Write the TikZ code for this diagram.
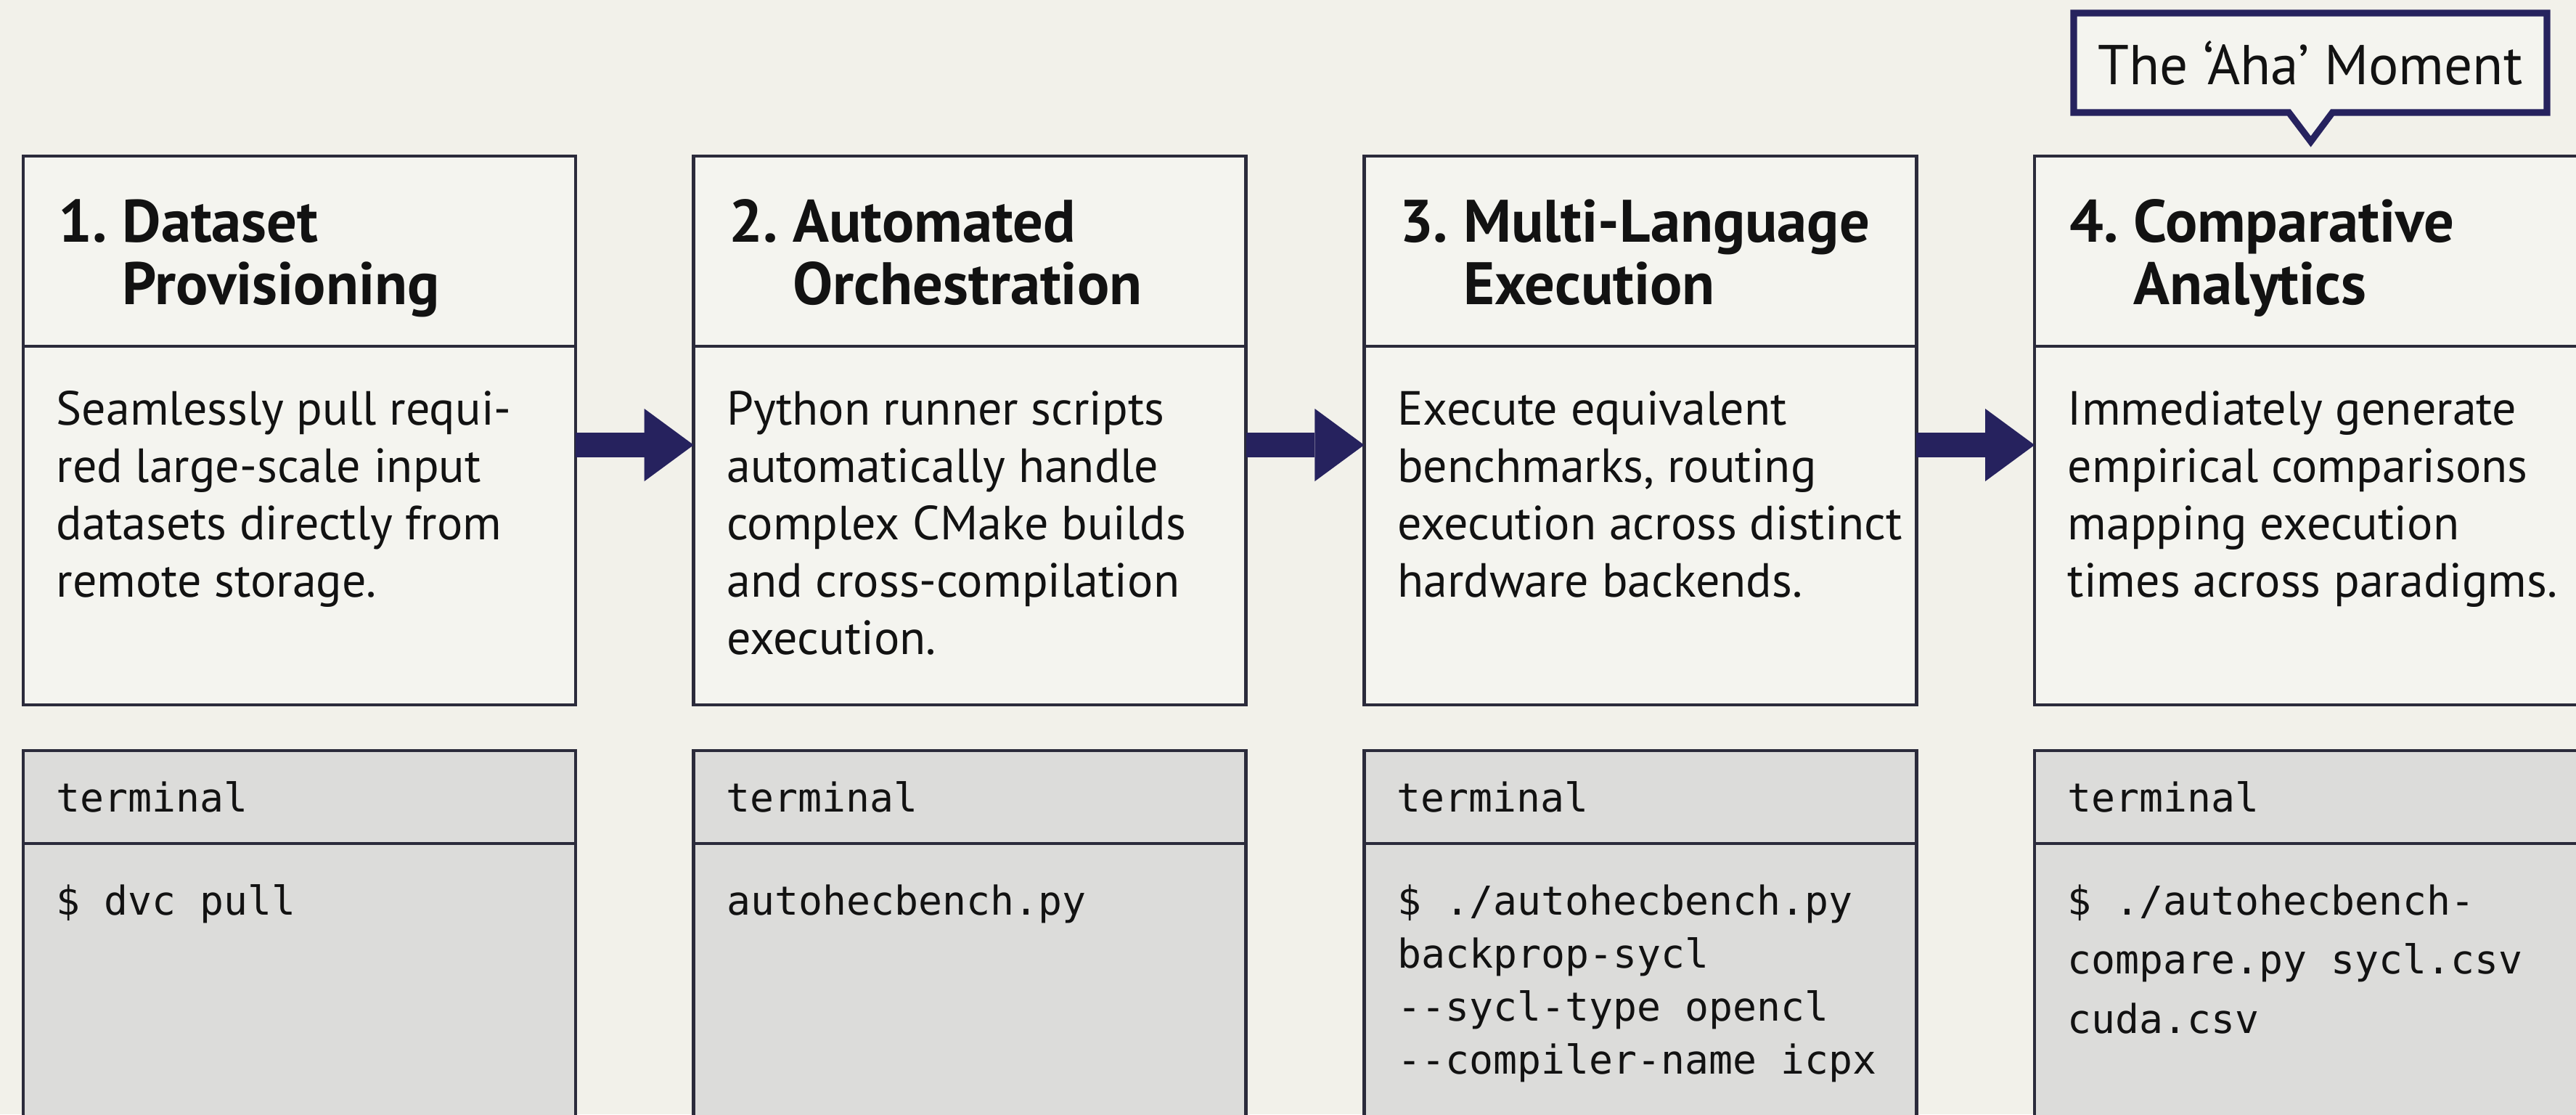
\documentclass[tikz,border=0pt]{standalone}
\usepackage{fontspec}
\setmainfont{PT Sans}
\setmonofont{DejaVu Sans Mono}
\usetikzlibrary{positioning, arrows.meta, shapes.callouts}

\definecolor{paper}{HTML}{F2F1EA}
\definecolor{card}{HTML}{F4F4EF}
\definecolor{shell}{HTML}{DCDCDA}
\definecolor{frame}{HTML}{2B2B3B}
\definecolor{navy}{HTML}{26225E}
\definecolor{ink}{HTML}{121212}

\newcommand{\textrows}[1]{\begin{tabular}[t]{@{}l@{}}#1\end{tabular}}

\begin{document}
\begin{tikzpicture}[
  cell/.style={draw=frame, line width=1.3pt, outer sep=0pt, inner sep=0pt, minimum width=7.61cm},
  head/.style={cell, fill=card, minimum height=2.62cm, anchor=north west},
  panel/.style={cell, fill=card, minimum height=4.94cm},
  termhead/.style={cell, fill=shell, minimum height=1.28cm, anchor=north west, text width=6.71cm, align=left, text=ink, font=\ttfamily\fontsize{15.6}{20.8}\selectfont},
  termbody/.style={cell, fill=shell, minimum height=4.1cm},
  txt/.style={anchor=base west, inner sep=0pt, text=ink},
  title/.style={txt, font=\bfseries\fontsize{23.5}{24.5}\selectfont},
  body/.style={txt, font=\fontsize{18.8}{22.5}\selectfont},
  code/.style={txt, font=\ttfamily\fontsize{15.6}{20.8}\selectfont},
  flow/.style={draw=navy, line width=0.34cm, -{Triangle[length=0.68cm, width=1.0cm, line width=0pt]}},
  aha/.style={rectangle callout, draw=navy, fill=card, line width=2.6pt, minimum width=6.52cm, minimum height=1.37cm, callout pointer width=0.6cm, text=ink, font=\fontsize{22}{26}\selectfont}
]
  \fill[paper] (0,0) rectangle (35.49,-15.35);
  \clip (0,0) rectangle (35.49,-15.35);

  \foreach \i/\x in {1/0.32, 2/9.557, 3/18.794, 4/28.031} {
    \node[head] (h\i) at (\x,-2.15) {};
    \node[panel, below=0pt of h\i] (p\i) {};
    \node[termhead] (th\i) at (\x,-10.34) {terminal};
    \node[termbody, below=0pt of th\i] (tb\i) {};
  }

  \node[title] (n1) at ([xshift=0.48cm, yshift=-1.18cm]h1.north west) {\textrows{1.~Dataset\\\hphantom{1.~}Provisioning}};
  \node[title] (n2) at ([xshift=0.48cm, yshift=-1.18cm]h2.north west) {\textrows{2.~Automated\\\hphantom{2.~}Orchestration}};
  \node[title] (n3) at ([xshift=0.48cm, yshift=-1.18cm]h3.north west) {\textrows{3.~Multi-Language\\\hphantom{3.~}Execution}};
  \node[title] (n4) at ([xshift=0.48cm, yshift=-1.18cm]h4.north west) {\textrows{4.~Comparative\\\hphantom{4.~}Analytics}};

  \node[body] (d1) at ([xshift=0.45cm, yshift=-1.08cm]p1.north west) {\textrows{Seamlessly pull requi-\\red large-scale input\\datasets directly from\\remote storage.}};
  \node[body] (d2) at ([xshift=0.45cm, yshift=-1.08cm]p2.north west) {\textrows{Python runner scripts\\automatically handle\\complex CMake builds\\and cross-compilation\\execution.}};
  \node[body] (d3) at ([xshift=0.45cm, yshift=-1.08cm]p3.north west) {\textrows{Execute equivalent\\benchmarks, routing\\execution across distinct\\hardware backends.}};
  \node[body] (d4) at ([xshift=0.45cm, yshift=-1.08cm]p4.north west) {\textrows{Immediately generate\\empirical comparisons\\mapping execution\\times across paradigms.}};

  \node[code] (c1) at ([xshift=0.45cm, yshift=-0.98cm]tb1.north west) {\$ dvc pull};
  \node[code] (c2) at ([xshift=0.45cm, yshift=-0.98cm]tb2.north west) {autohecbench.py};
  \node[code] (c3) at ([xshift=0.45cm, yshift=-0.98cm]tb3.north west) {\textrows{\$ ./autohecbench.py\\backprop-sycl\\-{}-sycl-type opencl\\-{}-compiler-name icpx}};
  \node[code, font=\ttfamily\fontsize{15.6}{23.3}\selectfont] (c4) at ([xshift=0.45cm, yshift=-0.98cm]tb4.north west) {\textrows{\$ ./autohecbench-\\compare.py sycl.csv\\cuda.csv}};

  \draw[flow] ([yshift=-1.36cm]p1.north east) -- ([yshift=-1.36cm]p2.north west);
  \draw[flow] ([yshift=-1.36cm]p2.north east) -- ([yshift=-1.36cm]p3.north west);
  \draw[flow] ([yshift=-1.36cm]p3.north east) -- ([yshift=-1.36cm]p4.north west);

  \node[aha, callout absolute pointer={([yshift=0.2cm]h4.north)}] (moment) at (31.83,-0.865) {The ‘Aha’ Moment};
\end{tikzpicture}
\end{document}
